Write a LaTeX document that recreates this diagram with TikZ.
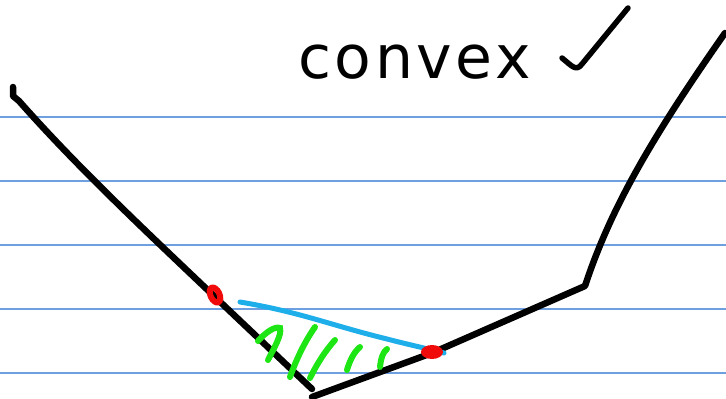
\documentclass[tikz,border=0pt]{standalone}
\usepackage{fontspec}
\setmainfont{DejaVu Sans}
\definecolor{ruleblue}{RGB}{110,160,225}
\definecolor{markblue}{RGB}{30,175,235}
\definecolor{markgreen}{RGB}{30,230,20}
\definecolor{markred}{RGB}{240,10,10}
\tikzset{
  pen/.style={line width=6.5pt, line cap=round, line join=round, black},
  rule/.style={line width=1.2pt, ruleblue},
  hatch/.style={line width=6pt, line cap=round, markgreen},
  chord/.style={line width=5pt, line cap=round, markblue},
  dot/.style={fill=markred, draw=none}
}
\begin{document}
\begin{tikzpicture}[x=1pt,y=-1pt]
\useasboundingbox (0,0) rectangle (726,399);
\fill[white] (0,0) rectangle (726,399);
% ruled lines
\foreach \yy in {117,181,245,309,373} \draw[rule] (0,\yy) -- (726,\yy);
% title
\node[anchor=base west, inner sep=0, font=\fontsize{60}{60}\selectfont\addfontfeature{LetterSpace=6}] (title) at (298,78) {convex};
% checkmark
\draw[pen, line width=5.5pt] (562,58) .. controls (572,66) and (576,72) .. (582,64) -- (628,8);
% function curve
\draw[pen] (13,87) -- (13,96) -- (19,101) .. controls (80,170) and (150,235) .. (215,297) -- (312,389);
\draw[pen] (312,397) -- (432,353) -- (585,286) .. controls (610,210) and (650,140) .. (725,33);
% chord
\draw[chord] (240,302) .. controls (300,312) and (330,325) .. (387,339) .. controls (410,345) and (425,348) .. (444,353);
% green hatching
\draw[hatch] (258,341) .. controls (266,332) and (275,326) .. (280,328) .. controls (282,335) and (274,348) .. (268,360);
\draw[hatch] (290,377) .. controls (298,355) and (306,340) .. (315,327);
\draw[hatch] (310,378) .. controls (318,362) and (326,350) .. (335,340);
\draw[hatch] (347,370) .. controls (350,360) and (354,352) .. (360,347);
\draw[hatch] (380,367) .. controls (381,358) and (383,352) .. (387,349);
% red endpoints
\draw[markred, line width=6pt] (215,295) ellipse [x radius=4.5pt, y radius=8pt, rotate=25];
\fill[dot] (432,352) ellipse [x radius=11pt, y radius=7pt];
\end{tikzpicture}
\end{document}
